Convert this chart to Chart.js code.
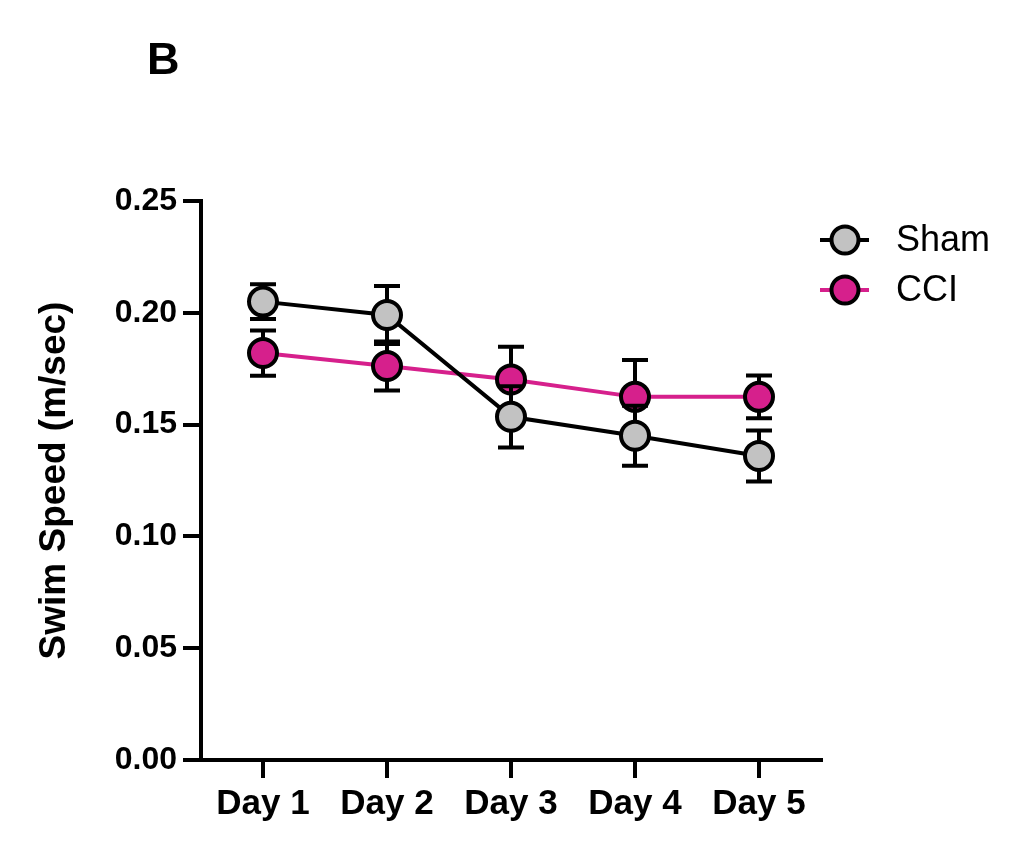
<!DOCTYPE html>
<html>
<head>
<meta charset="utf-8">
<script src="https://cdn.jsdelivr.net/npm/chart.js@4"></script>
<style>
  body { margin: 0; background: #fff; }
  #wrap { position: relative; width: 1024px; height: 854px; }
  #panel { position: absolute; left: 147px; top: 36px; font: bold 45px 'Liberation Sans', Arial, sans-serif; line-height: 45px; color: #000; }
</style>
</head>
<body>
<div id="wrap">
  <canvas id="swimChart" width="1024" height="854"></canvas>
  <div id="panel">B</div>
</div>
<script>
// values (mean +/- SEM)
const days = ['Day 1', 'Day 2', 'Day 3', 'Day 4', 'Day 5'];
const shamMean = [0.205, 0.199, 0.1535, 0.145, 0.136];
const shamSem = [0.0078, 0.013, 0.0137, 0.0134, 0.0114];
const cciMean = [0.182, 0.1762, 0.1702, 0.1624, 0.1624];
const cciSem = [0.0101, 0.011, 0.0146, 0.0165, 0.0096];
const yTicks = [0, 0.05, 0.10, 0.15, 0.20, 0.25];

const GRAY = '#c2c2c2';
const PINK = '#d6208c';
const FONT = "'Liberation Sans', Arial, sans-serif";
const LW = 4;

const errors = [shamSem, cciSem];

// error bars, drawn just before each dataset so layering follows the datasets
const errorBars = {
    id: 'errorBars',
    beforeDatasetDraw(chart, args) {
        const ctx = chart.ctx;
        const y = chart.scales.y;
        const sem = errors[args.index];
        const means = chart.data.datasets[args.index].data;
        ctx.save();
        ctx.strokeStyle = '#000';
        ctx.lineWidth = LW;
        args.meta.data.forEach((pt, i) => {
            const top = y.getPixelForValue(means[i] + sem[i]);
            const bot = y.getPixelForValue(means[i] - sem[i]);
            ctx.beginPath();
            ctx.moveTo(pt.x, top); ctx.lineTo(pt.x, bot);
            ctx.moveTo(pt.x - 13, top); ctx.lineTo(pt.x + 13, top);
            ctx.moveTo(pt.x - 13, bot); ctx.lineTo(pt.x + 13, bot);
            ctx.stroke();
        });
        ctx.restore();
    }
};

// legend on the right of the plot
const sideLegend = {
    id: 'sideLegend',
    afterDraw(chart) {
        const ctx = chart.ctx;
        ctx.save();
        chart.data.datasets.forEach((ds, i) => {
            const cy = 240 + i * 50;
            ctx.strokeStyle = ds.borderColor;
            ctx.lineWidth = LW;
            ctx.beginPath();
            ctx.moveTo(820, cy); ctx.lineTo(869, cy);
            ctx.stroke();
            ctx.beginPath();
            ctx.arc(845, cy, 13.5, 0, Math.PI * 2);
            ctx.fillStyle = ds.pointBackgroundColor;
            ctx.fill();
            ctx.strokeStyle = '#000';
            ctx.stroke();
            ctx.fillStyle = '#000';
            ctx.font = '36px ' + FONT;
            ctx.textBaseline = 'middle';
            ctx.fillText(ds.label, 896, cy + 1);
        });
        ctx.restore();
    }
};

new Chart(document.getElementById('swimChart'), {
    type: 'line',
    data: {
        labels: days,
        datasets: [
            {
                label: 'Sham',
                data: shamMean,
                borderColor: '#000',
                borderWidth: LW,
                pointBackgroundColor: GRAY,
                pointBorderColor: '#000',
                pointBorderWidth: LW,
                pointRadius: 14,
                tension: 0
            },
            {
                label: 'CCI',
                data: cciMean,
                borderColor: PINK,
                borderWidth: LW,
                pointBackgroundColor: PINK,
                pointBorderColor: '#000',
                pointBorderWidth: LW,
                pointRadius: 14,
                tension: 0
            }
        ]
    },
    options: {
        responsive: false,
        animation: false,
        layout: { padding: { left: 0, top: 201, right: 203, bottom: 0 } },
        plugins: { legend: { display: false }, tooltip: { enabled: false } },
        scales: {
            x: {
                type: 'category',
                offset: true,
                grid: { display: true, drawOnChartArea: false, drawTicks: true, tickLength: 18, color: '#000', lineWidth: LW },
                border: { display: true, color: '#000', width: LW },
                ticks: { color: '#000', padding: 5, font: { family: FONT, size: 35, weight: 'bold' } },
                afterFit(scale) { scale.height = 94; }
            },
            y: {
                min: 0,
                max: 0.25,
                afterBuildTicks(scale) { scale.ticks = yTicks.map(v => ({ value: v })); },
                grid: { display: true, drawOnChartArea: false, drawTicks: true, tickLength: 18, color: '#000', lineWidth: LW },
                border: { display: true, color: '#000', width: LW },
                ticks: {
                    color: '#000',
                    padding: 6,
                    font: { family: FONT, size: 32, weight: 'bold' },
                    callback: v => v.toFixed(2)
                },
                title: {
                    display: true,
                    text: 'Swim Speed (m/sec)',
                    color: '#000',
                    font: { family: FONT, size: 37, weight: 'bold' },
                    padding: { top: 33, bottom: 0 }
                },
                afterFit(scale) { scale.width = 201; }
            }
        }
    },
    plugins: [errorBars, sideLegend]
});
</script>
</body>
</html>
